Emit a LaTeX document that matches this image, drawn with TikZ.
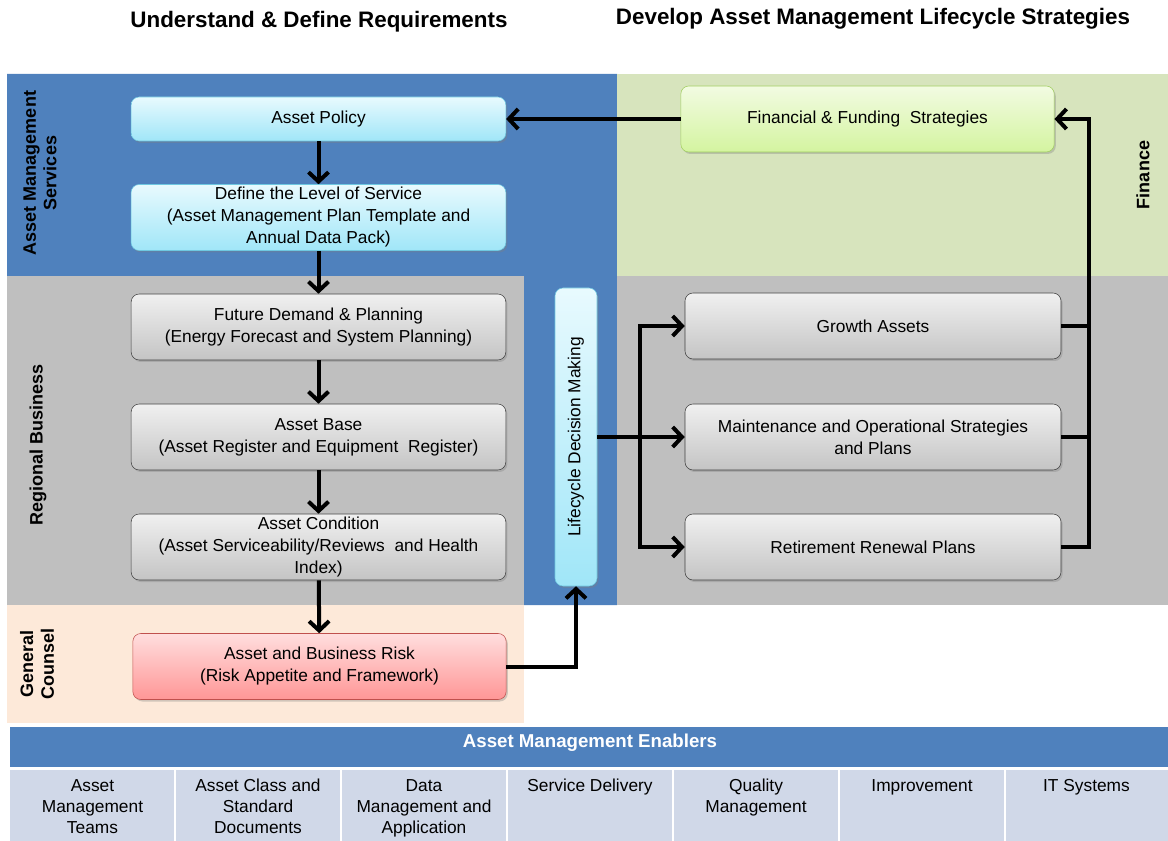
\documentclass[tikz,border=0pt]{standalone}
\usepackage{fontspec}
\setmainfont{Liberation Sans}
\usepackage{graphicx}
\usepackage{tikz}
\usetikzlibrary{arrows.meta, shadows}

\definecolor{amsblue}{RGB}{79,129,189}
\definecolor{fingreen}{RGB}{215,228,189}
\definecolor{regrey}{RGB}{191,191,191}
\definecolor{gcpeach}{RGB}{253,233,217}
\definecolor{cellfill}{RGB}{208,216,232}
\definecolor{cyantop}{RGB}{232,250,254}
\definecolor{cyanbot}{RGB}{160,230,248}
\definecolor{cyanedge}{RGB}{110,200,225}
\definecolor{greytop}{RGB}{240,240,240}
\definecolor{greybot}{RGB}{196,196,196}
\definecolor{greyedge}{RGB}{64,64,64}
\definecolor{greentop}{RGB}{242,251,226}
\definecolor{greenbot}{RGB}{212,244,160}
\definecolor{greenedge}{RGB}{160,205,95}
\definecolor{pinktop}{RGB}{255,222,222}
\definecolor{pinkbot}{RGB}{255,150,150}
\definecolor{pinkedge}{RGB}{192,80,77}

\begin{document}
\begin{tikzpicture}[x=0.75pt, y=-0.75pt,
  box/.style={draw, rounded corners=6pt, align=center, inner sep=2pt,
    font=\fontsize{13}{16.5}\selectfont, minimum width=281pt, minimum height=49.5pt,
    drop shadow={shadow xshift=1.2pt, shadow yshift=-1.5pt, opacity=0.35}},
  cyanbox/.style={box, draw=cyanedge, top color=cyantop, bottom color=cyanbot},
  greybox/.style={box, draw=greyedge, top color=greytop, bottom color=greybot},
  greenbox/.style={box, draw=greenedge, top color=greentop, bottom color=greenbot},
  pinkbox/.style={box, draw=pinkedge, top color=pinktop, bottom color=pinkbot},
  side/.style={rotate=90, align=center, font=\fontsize{13.5}{15.5}\selectfont\bfseries},
  title/.style={font=\fontsize{16.8}{20}\selectfont\bfseries},
  cell/.style={anchor=north, align=center, inner sep=0pt, font=\fontsize{13}{15.75}\selectfont},
  arr/.style={line width=3pt, -{Straight Barb[length=7pt, width=15pt]}},
  ln/.style={line width=3pt}]
\useasboundingbox (0,0) rectangle (1168,841);

% lanes
\fill[amsblue] (7,74) -- (617,74) -- (617,605) -- (524,605) -- (524,276) -- (7,276) -- cycle;
\fill[fingreen] (617,74) rectangle (1168,276);
\fill[regrey] (7,276) rectangle (524,605);
\fill[regrey] (617,276) rectangle (1168,605);
\fill[gcpeach] (7,605) rectangle (524,723);
\fill[amsblue] (10,727) rectangle (1168,767);
\fill[cellfill] (10,770) rectangle (1168,841);
\foreach \xc in {175,341,507,673,839,1005}
  \draw[white, line width=1.5pt] (\xc,770) -- (\xc,841);

% headings
\node[title] (t1) at (319,22) {Understand \& Define Requirements};
\node[title] (t2) at (873,19) {Develop Asset Management Lifecycle Strategies};
\node[side] (s1) at (40,173) {Asset Management\\Services};
\node[side] (s2) at (38,445) {Regional Business};
\node[side] (s3) at (37,664) {General\\Counsel};
\node[side] (s4) at (1143,175) {Finance};
\node[font=\fontsize{14}{16}\selectfont\bfseries, text=white] (h1) at (590,743) {Asset Management Enablers};

% left column
\node[cyanbox, minimum height=33pt] (l1) at (318.5,119) {Asset Policy};
\node[cyanbox] (l2) at (318.5,217.5) {Define the Level of Service\\(Asset Management Plan Template and\\Annual Data Pack)};
\node[greybox] (l3) at (318.5,327) {Future Demand \& Planning\\(Energy Forecast and System Planning)};
\node[greybox] (l4) at (318.5,437) {Asset Base\\(Asset Register and Equipment\ \ Register)};
\node[greybox] (l5) at (318.5,547) {Asset Condition\\(Asset Serviceability/Reviews\ \ and Health\\Index)};
\node[pinkbox, minimum width=280pt] (l6) at (319.5,666.5) {Asset and Business Risk\\(Risk Appetite and Framework)};

% decision and strategies
\node[cyanbox, minimum width=31.5pt, minimum height=223.5pt, inner sep=0pt] (d1) at (576,437) {\rotatebox{90}{Lifecycle Decision Making}};
\node[greenbox, minimum width=280pt] (f1) at (867.5,119) {Financial \& Funding\ \ Strategies};
\node[greybox, minimum width=282pt] (r1) at (873,326) {Growth Assets};
\node[greybox, minimum width=282pt] (r2) at (873,437) {Maintenance and Operational Strategies\\and Plans};
\node[greybox, minimum width=282pt] (r3) at (873,547) {Retirement Renewal Plans};

% enablers
\node[cell] (e1) at (92.5,779) {Asset\\Management\\Teams};
\node[cell] (e2) at (258,779) {Asset Class and\\Standard\\Documents};
\node[cell] (e3) at (424,779) {Data\\Management and\\Application};
\node[cell] (e4) at (590,779) {Service Delivery};
\node[cell] (e5) at (756,779) {Quality\\Management};
\node[cell] (e6) at (922,779) {Improvement};
\node[cell] (e7) at (1086.5,779) {IT Systems};

\coordinate (j1) at (640,437);
\coordinate (j2) at (1089,119);

\draw[arr] (f1) -- (l1);
\draw[arr] (l1) -- (l2);
\draw[arr] (l2) -- (l3);
\draw[arr] (l3) -- (l4);
\draw[arr] (l4) -- (l5);
\draw[arr] (l5) -- (l6);
\draw[arr] (l6.east) -| (d1.south);
\draw[arr] (d1.east) -- (r2.west);
\draw[arr] (j1) |- (r1.west);
\draw[arr] (j1) |- (r3.west);
\draw[arr] (r3.east) -| (j2) -- (f1.east);
\draw[ln] (r1.east) -- (r1.east -| j2);
\draw[ln] (r2.east) -- (r2.east -| j2);
\end{tikzpicture}
\end{document}
